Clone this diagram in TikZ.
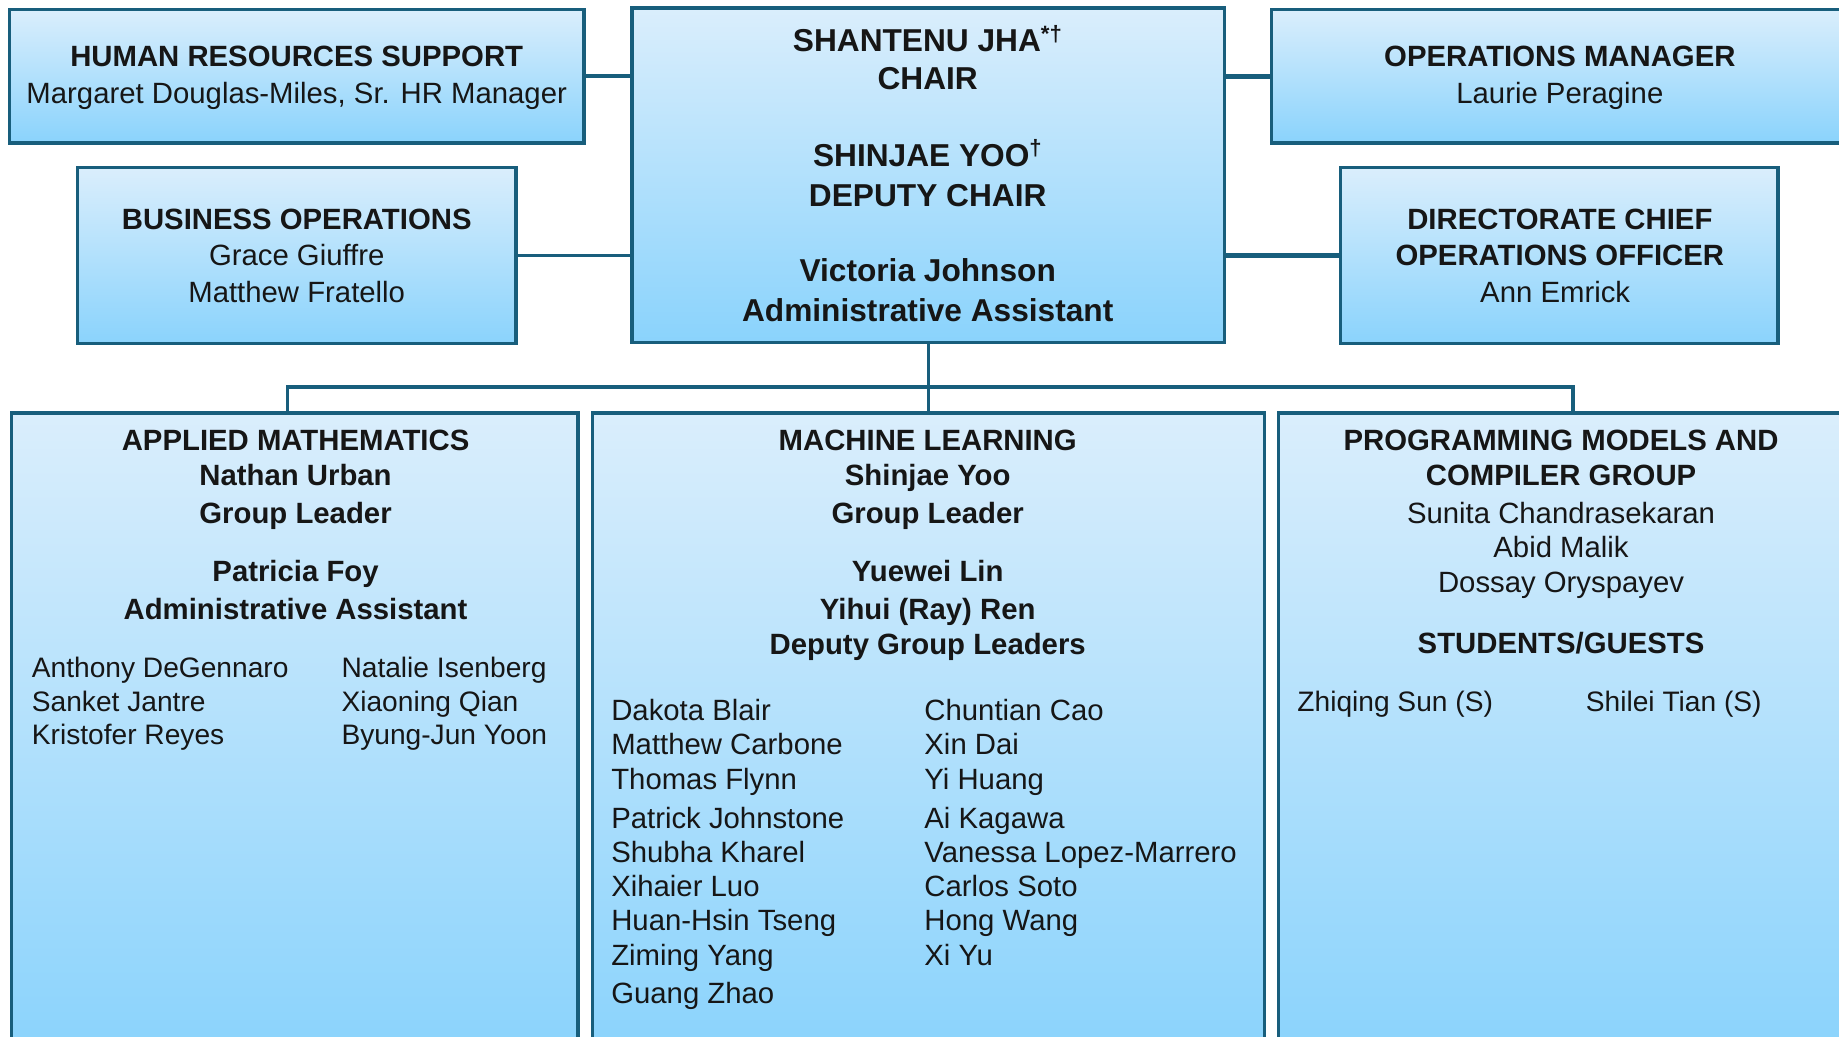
\documentclass[tikz,border=0pt]{standalone}
\usepackage{fontspec}
\setmainfont{Liberation Sans}
\definecolor{edge}{RGB}{24,94,124}
\definecolor{topfill}{RGB}{218,238,252}
\definecolor{botfill}{RGB}{138,211,252}
\definecolor{ink}{RGB}{22,22,22}
\begin{document}
\begin{tikzpicture}[x=1pt,y=-1pt,
  box/.style={draw=edge, line width=3pt, top color=topfill, bottom color=botfill, rectangle, inner sep=0pt, outer sep=0pt},
  link/.style={draw=edge, line width=3pt},
  tr/.style={anchor=base, inner sep=0pt, text=ink, font=\fontsize{25}{30}\selectfont},
  tb/.style={tr, font=\fontsize{25}{30}\selectfont\bfseries},
  tc/.style={tr, font=\fontsize{27}{32}\selectfont\bfseries},
  tl/.style={tr, anchor=base west},
  ts/.style={tl, font=\fontsize{24}{29}\selectfont}]
\useasboundingbox (0,0) rectangle (1568,883.4);
% boxes
\node[box, minimum width=490, minimum height=114] (hr) at (253,65) {};
\node[box, minimum width=505, minimum height=285] (chair) at (791.5,149.5) {};
\node[box, minimum width=492, minimum height=114] (ops) at (1330,65) {};
\node[box, minimum width=374, minimum height=150] (bus) at (253,218) {};
\node[box, minimum width=373, minimum height=150] (dir) at (1329.5,218) {};
\node[box, minimum width=483, minimum height=548] (am) at (251.5,626) {};
\node[box, minimum width=573, minimum height=548] (ml) at (791.5,626) {};
\node[box, minimum width=482, minimum height=548] (pm) at (1331,626) {};
% connectors
\draw[link] (hr.east) -- (chair.west |- hr.east);
\draw[link] (bus.east) -- (chair.west |- bus.east);
\draw[link, line width=4pt] (chair.east |- ops.west) -- (ops.west);
\draw[link, line width=4pt] (chair.east |- dir.west) -- (dir.west);
\coordinate (lt) at (245,330);
\coordinate (rt) at (1341,330);
\draw[link] (chair.south) -- (ml.north);
\draw[link] (am.north -| lt) -- (lt) -- (rt) -- (pm.north -| rt);
% HR
\node[tb] (hr1) at (253,57) {HUMAN RESOURCES SUPPORT};
\node[tr] (hr2) at (253,88) {Margaret Douglas-Miles, Sr. HR Manager};
% chair
\node[tc] (c1) at (791,44) {SHANTENU JHA\textsuperscript{*†}};
\node[tc] (c2) at (791,76) {CHAIR};
\node[tc] (c3) at (791,142) {SHINJAE YOO\textsuperscript{†}};
\node[tc] (c4) at (791,176) {DEPUTY CHAIR};
\node[tc] (c5) at (791,240) {Victoria Johnson};
\node[tc] (c6) at (791,274) {Administrative Assistant};
% ops
\node[tb] (o1) at (1330,57) {OPERATIONS MANAGER};
\node[tr] (o2) at (1330,88) {Laurie Peragine};
% business
\node[tb] (b1) at (253,196) {BUSINESS OPERATIONS};
\node[tr] (b2) at (253,226) {Grace Giuffre};
\node[tr] (b3) at (253,258) {Matthew Fratello};
% directorate
\node[tb] (d1) at (1330,196) {DIRECTORATE CHIEF};
\node[tb] (d2) at (1330,226) {OPERATIONS OFFICER};
\node[tr] (d3) at (1326,258) {Ann Emrick};
% applied math
\node[tb] (a1) at (252,384) {APPLIED MATHEMATICS};
\node[tb] (a2) at (252,414) {Nathan Urban};
\node[tb] (a3) at (252,446) {Group Leader};
\node[tb] (a4) at (252,496) {Patricia Foy};
\node[tb] (a5) at (252,528) {Administrative Assistant};
\node[ts] (a6) at (27,578) {Anthony DeGennaro};
\node[ts] (a7) at (27,607) {Sanket Jantre};
\node[ts] (a8) at (27,635) {Kristofer Reyes};
\node[ts] (a9) at (291,578) {Natalie Isenberg};
\node[ts] (a10) at (291,607) {Xiaoning Qian};
\node[ts] (a11) at (291,635) {Byung-Jun Yoon};
% machine learning
\node[tb] (m1) at (791,384) {MACHINE LEARNING};
\node[tb] (m2) at (791,414) {Shinjae Yoo};
\node[tb] (m3) at (791,446) {Group Leader};
\node[tb] (m4) at (791,496) {Yuewei Lin};
\node[tb] (m5) at (791,528) {Yihui (Ray) Ren};
\node[tb] (m6) at (791,558) {Deputy Group Leaders};
\node[tl] (ml1) at (521,614) {Dakota Blair};
\node[tl] (ml2) at (521,643) {Matthew Carbone};
\node[tl] (ml3) at (521,673) {Thomas Flynn};
\node[tl] (ml4) at (521,706) {Patrick Johnstone};
\node[tl] (ml5) at (521,735) {Shubha Kharel};
\node[tl] (ml6) at (521,764) {Xihaier Luo};
\node[tl] (ml7) at (521,793) {Huan-Hsin Tseng};
\node[tl] (ml8) at (521,823) {Ziming Yang};
\node[tl] (ml9) at (521,856) {Guang Zhao};
\node[tl] (mr1) at (788,614) {Chuntian Cao};
\node[tl] (mr2) at (788,643) {Xin Dai};
\node[tl] (mr3) at (788,673) {Yi Huang};
\node[tl] (mr4) at (788,706) {Ai Kagawa};
\node[tl] (mr5) at (788,735) {Vanessa Lopez-Marrero};
\node[tl] (mr6) at (788,764) {Carlos Soto};
\node[tl] (mr7) at (788,793) {Hong Wang};
\node[tl] (mr8) at (788,823) {Xi Yu};
% programming models
\node[tb] (p1) at (1331,384) {PROGRAMMING MODELS AND};
\node[tb] (p2) at (1331,414) {COMPILER GROUP};
\node[tr] (p3) at (1331,446) {Sunita Chandrasekaran};
\node[tr] (p4) at (1331,475) {Abid Malik};
\node[tr] (p5) at (1331,505) {Dossay Oryspayev};
\node[tb] (p6) at (1331,557) {STUDENTS/GUESTS};
\node[ts] (p7) at (1106,607) {Zhiqing Sun (S)};
\node[ts] (p8) at (1352,607) {Shilei Tian (S)};
\end{tikzpicture}
\end{document}
